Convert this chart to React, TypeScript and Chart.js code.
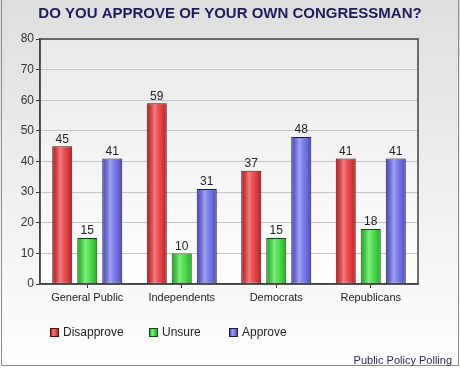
import React, { useEffect, useRef } from "react";
import { Chart, registerables } from "chart.js";

Chart.register(...registerables);

const categories = ["General Public", "Independents", "Democrats", "Republicans"];
const disapprove = [45, 59, 37, 41];
const unsure = [15, 10, 15, 18];
const approve = [41, 31, 48, 41];
const seriesNames = ["Disapprove", "Unsure", "Approve"];
const yTicks = [0, 10, 20, 30, 40, 50, 60, 70, 80];
const titleText = "DO YOU APPROVE OF YOUR OWN CONGRESSMAN?";
const footerText = "Public Policy Polling";

const FONT = "'Liberation Sans', Arial, sans-serif";
const fills = ["#ec2a2e", "#30e030", "#6464ee"];
const borders = ["#5a0a0a", "#0f480f", "#1a1a55"];

const decorPlugin = {
  id: "decor",
  beforeDraw(chart: any) {
    const { ctx, width, height, chartArea } = chart;
    ctx.save();
    const g = ctx.createLinearGradient(0, 0, 0, height);
    g.addColorStop(0, "#dedede");
    g.addColorStop(1, "#ffffff");
    ctx.fillStyle = g;
    ctx.fillRect(0, 0, width, height);
    const pg = ctx.createLinearGradient(0, chartArea.top, 0, chartArea.bottom);
    pg.addColorStop(0, "#e9e9e9");
    pg.addColorStop(1, "#ffffff");
    ctx.fillStyle = pg;
    ctx.fillRect(chartArea.left, chartArea.top, chartArea.right - chartArea.left, chartArea.bottom - chartArea.top);
    ctx.strokeStyle = "#8c8c8c";
    ctx.lineWidth = 1;
    ctx.strokeRect(1.5, -1, width - 3, height - 1.5);
    // title
    ctx.fillStyle = "#1c1c5c";
    ctx.font = `bold 15px ${FONT}`;
    ctx.textAlign = "center";
    ctx.textBaseline = "middle";
    ctx.fillText(titleText, width / 2 + 0, 14);
    ctx.restore();
  },
  afterDatasetsDraw(chart: any) {
    const { ctx, chartArea } = chart;
    ctx.save();
    chart.data.datasets.forEach((ds: any, di: number) => {
      const meta = chart.getDatasetMeta(di);
      meta.data.forEach((bar: any, i: number) => {
        const w = bar.width;
        const x0 = bar.x - w / 2;
        const top = bar.y;
        const h = bar.base - bar.y;
        const gr = ctx.createLinearGradient(x0, 0, x0 + w, 0);
        gr.addColorStop(0, "rgba(0,0,0,0.22)");
        gr.addColorStop(0.4, "rgba(255,255,255,0.4)");
        gr.addColorStop(0.55, "rgba(255,255,255,0.2)");
        gr.addColorStop(1, "rgba(0,0,0,0.25)");
        ctx.fillStyle = gr;
        ctx.fillRect(x0 + 1, top + 1, w - 2, h - 1);
        ctx.fillStyle = "#222";
        ctx.font = `12px ${FONT}`;
        ctx.textAlign = "center";
        ctx.textBaseline = "bottom";
        ctx.fillText(String(ds.data[i]), bar.x, top - 1);
      });
    });
    // plot border
    ctx.strokeStyle = "#444";
    ctx.lineWidth = 1.5;
    ctx.strokeRect(chartArea.left, chartArea.top, chartArea.right - chartArea.left, chartArea.bottom - chartArea.top);
    // legend
    const lx = [50, 149, 229];
    ctx.font = `12px ${FONT}`;
    ctx.textAlign = "left";
    ctx.textBaseline = "middle";
    seriesNames.forEach((name, k) => {
      const bx = lx[k];
      const by = 328;
      ctx.fillStyle = fills[k];
      ctx.fillRect(bx, by, 9, 9);
      const gr = ctx.createLinearGradient(bx, 0, bx + 9, 0);
      gr.addColorStop(0, "rgba(0,0,0,0.18)");
      gr.addColorStop(0.4, "rgba(255,255,255,0.38)");
      gr.addColorStop(1, "rgba(0,0,0,0.22)");
      ctx.fillStyle = gr;
      ctx.fillRect(bx, by, 9, 9);
      ctx.strokeStyle = borders[k];
      ctx.lineWidth = 1;
      ctx.strokeRect(bx + 0.5, by + 0.5, 8, 8);
      ctx.fillStyle = "#222";
      ctx.fillText(name, bx + 13, by + 5);
    });
    // footer
    ctx.fillStyle = "#2a2a5a";
    ctx.font = `11px ${FONT}`;
    ctx.textAlign = "right";
    ctx.fillText(footerText, 452, 361);
    ctx.restore();
  },
};

export default function App() {
  const ref = useRef<HTMLCanvasElement>(null);
  useEffect(() => {
    document.body.style.margin = "0";
    const data = [disapprove, unsure, approve];
    const chart = new Chart(ref.current!, {
      type: "bar",
      data: {
        labels: categories,
        datasets: seriesNames.map((n, k) => ({
          label: n,
          data: data[k],
          backgroundColor: fills[k],
          borderColor: borders[k],
          borderWidth: 1,
          borderSkipped: false,
          categoryPercentage: 0.794,
          barPercentage: 0.8,
        })),
      },
      options: {
        animation: false,
        responsive: false,
        layout: { padding: { top: 39, right: 42, left: 0, bottom: 0 } },
        plugins: { legend: { display: false }, title: { display: false }, tooltip: { enabled: false } },
        scales: {
          x: {
            afterFit: (s: any) => { s.height = 84; },
            grid: { display: true, drawOnChartArea: false, offset: false, tickLength: 4, tickColor: "#333" },
            border: { display: true, color: "#444", width: 1.5 },
            ticks: { color: "#222", font: { family: FONT, size: 11 }, padding: 3, maxRotation: 0 },
          },
          y: {
            min: 0,
            max: 80,
            afterFit: (s: any) => { s.width = 40; },
            afterBuildTicks: (s: any) => { s.ticks = yTicks.map((v) => ({ value: v })); },
            grid: { color: "#c4c4c4", tickColor: "#333", tickLength: 4, lineWidth: 1 },
            border: { display: true, color: "#444", width: 1.5 },
            ticks: { color: "#333", font: { family: FONT, size: 12 }, padding: 2 },
          },
        },
      },
      plugins: [decorPlugin],
    });
    return () => chart.destroy();
  }, []);
  return <canvas ref={ref} width={460} height={368} style={{ display: "block", width: 460, height: 368 }} />;
}
